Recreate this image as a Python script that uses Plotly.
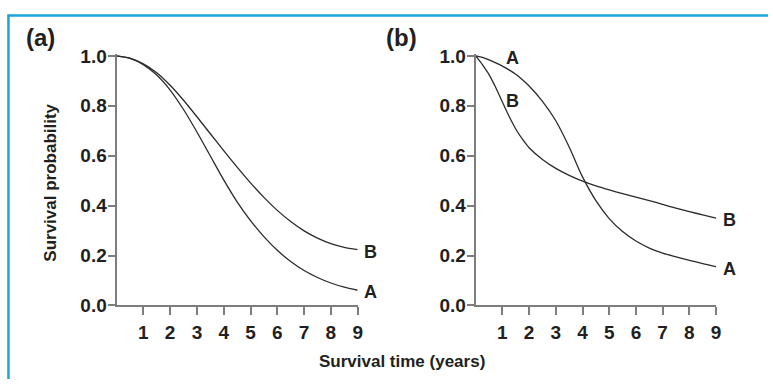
import plotly.graph_objects as go

# ---- data ----
t_a = [0, 0.5, 1, 1.5, 2, 2.5, 3, 3.5, 4, 4.5, 5, 5.5, 6, 6.5, 7, 7.5, 8, 8.5, 9]
a_A = [1.0, 0.99, 0.965, 0.923, 0.863, 0.785, 0.695, 0.599, 0.503, 0.415, 0.340, 0.276,
       0.221, 0.176, 0.140, 0.112, 0.090, 0.073, 0.061]
a_B = [1.0, 0.991, 0.968, 0.932, 0.882, 0.822, 0.756, 0.688, 0.620, 0.554, 0.491, 0.433,
       0.381, 0.336, 0.299, 0.270, 0.248, 0.233, 0.224]

t_b = [0, 0.25, 0.5, 0.75, 1, 1.25, 1.5, 1.75, 2, 2.5, 3, 3.5, 4, 4.5, 5, 5.5, 6,
       6.5, 7, 7.5, 8, 8.5, 9]
b_A = [1.0, 0.994, 0.984, 0.972, 0.959, 0.944, 0.926, 0.904, 0.879, 0.818, 0.74,
       0.635, 0.515, 0.42, 0.348, 0.296, 0.258, 0.23, 0.21, 0.195, 0.181, 0.168, 0.156]
b_B = [1.0, 0.965, 0.925, 0.873, 0.815, 0.758, 0.707, 0.666, 0.632, 0.585, 0.549,
       0.521, 0.498, 0.479, 0.463, 0.448, 0.434, 0.42, 0.405, 0.39, 0.376, 0.363, 0.35]

x_ticks = [1, 2, 3, 4, 5, 6, 7, 8, 9]
y_ticks = [0.0, 0.2, 0.4, 0.6, 0.8, 1.0]
y_ticktext = ["0.0", "0.2", "0.4", "0.6", "0.8", "1.0"]

panel_titles = ["(a)", "(b)"]
x_title = "Survival time (years)"
y_title = "Survival probability"

# ---- figure ----
W, H = 773, 390
FONT = "Liberation Sans, Arial, Helvetica, sans-serif"
TXT = "#231f20"
AX = "#7d7d7d"
CURVE = "#2b2b2b"
BLUE = "#1ba6da"

fig = go.Figure()

def add_curve(x, y, xa, ya):
    fig.add_trace(go.Scatter(x=x, y=y, mode="lines", xaxis=xa, yaxis=ya,
                             line=dict(color=CURVE, width=1.3, shape="spline", smoothing=0.7),
                             showlegend=False, hoverinfo="skip"))

add_curve(t_a, a_A, "x", "y")
add_curve(t_a, a_B, "x", "y")
add_curve(t_b, b_A, "x2", "y2")
add_curve(t_b, b_B, "x2", "y2")

y_top = 1.008
y_dom = [(H - 312.7) / H, (H - 312.7 + 262.4 * y_top) / H]

axis_common = dict(showline=True, linecolor=AX, linewidth=2, showgrid=False,
                   zeroline=False, ticks="outside", tickcolor=AX, tickwidth=2,
                   tickfont=dict(family=FONT, size=19, color=TXT, weight="bold"))

fig.update_layout(
    width=W, height=H, margin=dict(l=0, r=0, t=0, b=0),
    paper_bgcolor="white", plot_bgcolor="white",
    xaxis=dict(domain=[117.3 / W, 360.0 / W], range=[0, 9], tickvals=x_ticks,
               ticklen=8, anchor="y", ticklabelstandoff=1, **axis_common),
    yaxis=dict(domain=y_dom, range=[0, y_top], tickvals=y_ticks, ticktext=y_ticktext,
               ticklen=7, anchor="x", ticklabelstandoff=-3, **axis_common),
    xaxis2=dict(domain=[478.8 / W, 720.7 / W], range=[0, 9], tickvals=x_ticks,
                ticklen=8, anchor="y2", ticklabelstandoff=1, **axis_common),
    yaxis2=dict(domain=y_dom, range=[0, y_top], tickvals=y_ticks, ticktext=y_ticktext,
                ticklen=7, anchor="x2", ticklabelstandoff=-3, **axis_common),
)

lbl_font = dict(family=FONT, size=18, color=TXT, weight="bold")

def curve_label(text, xa, ya, xs, ys, dx=0, dy=0):
    fig.add_annotation(text=text, x=xs, y=ys, xref=xa, yref=ya, showarrow=False,
                       xanchor="center", yanchor="middle", xshift=dx, yshift=dy,
                       font=lbl_font)

# end-of-curve labels
curve_label("B", "x", "y", t_a[-1], a_B[-1], dx=13, dy=-2)
curve_label("A", "x", "y", t_a[-1], a_A[-1], dx=13, dy=-2)
curve_label("B", "x2", "y2", t_b[-1], b_B[-1], dx=13, dy=-2)
curve_label("A", "x2", "y2", t_b[-1], b_A[-1], dx=13, dy=-2)
# panel (b) labels near start
curve_label("A", "x2", "y2", 1.36, 0.977, dy=4)
curve_label("B", "x2", "y2", 1.36, 0.816, dy=1)

# panel letters
for txt, px in zip(panel_titles, [40.5, 404.0]):
    fig.add_annotation(text=txt, x=px / W, y=1 - 31 / H, xref="paper", yref="paper",
                       showarrow=False, xanchor="center", yanchor="middle",
                       font=dict(family=FONT, size=24, color=TXT, weight="bold"))

# axis titles
fig.add_annotation(text=x_title, x=405 / W, y=1 - 372 / H, xref="paper", yref="paper",
                   showarrow=False, xanchor="center", yanchor="middle",
                   font=dict(family=FONT, size=17, color=TXT, weight="bold"))
fig.add_annotation(text=y_title, x=50 / W, y=1 - 184 / H, xref="paper", yref="paper",
                   showarrow=False, xanchor="center", yanchor="middle", textangle=-90,
                   font=dict(family=FONT, size=17, color=TXT, weight="bold"))

# blue frame (top and left)
fig.add_shape(type="line", xref="paper", yref="paper", x0=7.5 / W, x1=1, y0=1 - 8 / H,
              y1=1 - 8 / H, line=dict(color=BLUE, width=2.5))
fig.add_shape(type="line", xref="paper", yref="paper", x0=8.5 / W, x1=8.5 / W,
              y0=0, y1=1 - 7 / H, line=dict(color=BLUE, width=2.5))

fig.write_html("out.html")
